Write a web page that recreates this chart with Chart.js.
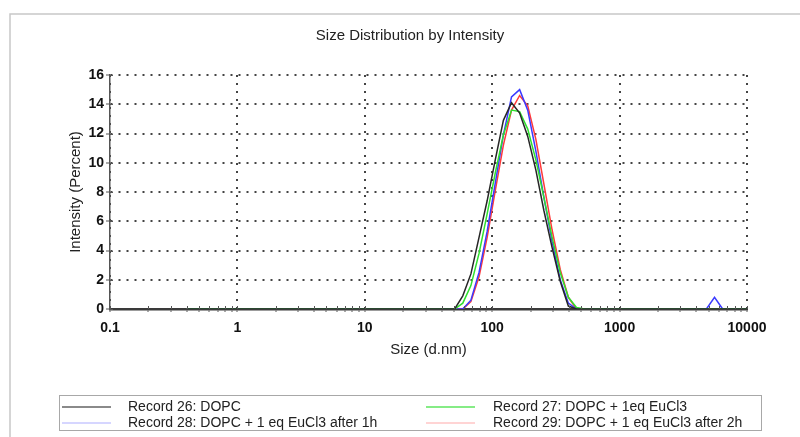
<!DOCTYPE html>
<html>
<head>
<meta charset="utf-8">
<title>Size Distribution by Intensity</title>
<script src="https://cdn.jsdelivr.net/npm/chart.js@4.4.0/dist/chart.umd.min.js"></script>
<style>
  body { margin: 0; background: #fff; }
  #wrap { width: 800px; height: 437px; position: relative; }
</style>
</head>
<body>
<div id="wrap"><canvas id="sizeChart"></canvas></div>
<script>
// size bins (d.nm)
const sizes = [0.4, 0.4632, 0.5365, 0.6213, 0.7195, 0.8332, 0.9649, 1.117, 1.294, 1.499,
  1.736, 2.010, 2.328, 2.696, 3.122, 3.615, 4.187, 4.849, 5.615, 6.503,
  7.531, 8.721, 10.10, 11.70, 13.54, 15.69, 18.17, 21.04, 24.36, 28.21,
  32.67, 37.84, 43.82, 50.75, 58.77, 68.06, 78.82, 91.28, 105.7, 122.4,
  141.8, 164.2, 190.1, 220.2, 255.0, 295.3, 342.0, 396.1, 458.7, 531.2,
  615.1, 712.4, 825.0, 955.4, 1106, 1281, 1484, 1718, 1990, 2305,
  2669, 3091, 3580, 4145, 4801, 5560, 6439, 7456, 8635, 10000];

// intensity (percent) per bin
const record26 = [0, 0, 0, 0, 0, 0, 0, 0, 0, 0,
  0, 0, 0, 0, 0, 0, 0, 0, 0, 0,
  0, 0, 0, 0, 0, 0, 0, 0, 0, 0,
  0, 0, 0, 0, 0.9, 2.4, 4.9, 7.4, 10.2, 12.9,
  14.1, 13.4, 11.8, 9.5, 6.7, 4.2, 1.9, 0.2, 0, 0,
  0, 0, 0, 0, 0, 0, 0, 0, 0, 0,
  0, 0, 0, 0, 0, 0, 0, 0, 0, 0];
const record27 = [0, 0, 0, 0, 0, 0, 0, 0, 0, 0,
  0, 0, 0, 0, 0, 0, 0, 0, 0, 0,
  0, 0, 0, 0, 0, 0, 0, 0, 0, 0,
  0, 0, 0, 0, 0.4, 1.6, 3.8, 6.5, 9.3, 11.9,
  13.6, 13.5, 12.3, 10.2, 7.6, 4.9, 2.5, 0.8, 0.1, 0,
  0, 0, 0, 0, 0, 0, 0, 0, 0, 0,
  0, 0, 0, 0, 0, 0, 0, 0, 0, 0];
const record28 = [0, 0, 0, 0, 0, 0, 0, 0, 0, 0,
  0, 0, 0, 0, 0, 0, 0, 0, 0, 0,
  0, 0, 0, 0, 0, 0, 0, 0, 0, 0,
  0, 0, 0, 0, 0, 0.6, 2.5, 5.3, 8.6, 11.9,
  14.5, 15.0, 13.6, 10.8, 7.6, 4.6, 2.0, 0.4, 0, 0,
  0, 0, 0, 0, 0, 0, 0, 0, 0, 0,
  0, 0, 0, 0, 0, 0.8, 0, 0, 0, 0];
const record29 = [0, 0, 0, 0, 0, 0, 0, 0, 0, 0,
  0, 0, 0, 0, 0, 0, 0, 0, 0, 0,
  0, 0, 0, 0, 0, 0, 0, 0, 0, 0,
  0, 0, 0, 0, 0, 0.5, 2.2, 4.9, 8.1, 11.2,
  13.6, 14.6, 13.9, 11.6, 8.5, 5.4, 2.7, 0.8, 0, 0,
  0, 0, 0, 0, 0, 0, 0, 0, 0, 0,
  0, 0, 0, 0, 0, 0, 0, 0, 0, 0];

const seriesNames = ['Record 26: DOPC', 'Record 27: DOPC + 1eq EuCl3',
  'Record 28: DOPC + 1 eq EuCl3 after 1h', 'Record 29: DOPC + 1 eq EuCl3 after 2h'];
const seriesColors = ['#262626', '#2ee02e', '#3a3aff', '#ff3a3a'];
const legendColors = ['#8a8a8a', '#86ec86', '#d6d6ff', '#ffd4d4'];

const xMajorTicks = [0.1, 1, 10, 100, 1000, 10000];
const yTickLabels = [0, 2, 4, 6, 8, 10, 12, 14, 16];

const FONT = '"Liberation Sans", Arial, sans-serif';

function toPoints(vals) {
  return sizes.map(function(s, i) { return {x: s, y: vals[i]}; });
}

const allSeries = [record26, record27, record28, record29];
const datasets = allSeries.map(function(vals, i) {
  return {
    label: seriesNames[i],
    data: toPoints(vals),
    borderColor: seriesColors[i],
    borderWidth: 1.5,
    pointRadius: 0,
    tension: 0,
    fill: false
  };
});

// frame, title, boxed legend and the little ticks that cross the axes
const framePlugin = {
  id: 'framePlugin',
  beforeDraw(chart) {
    const ctx = chart.ctx;
    ctx.save();
    ctx.fillStyle = '#fff';
    ctx.fillRect(0, 0, chart.width, chart.height);
    ctx.restore();
  },
  afterDraw(chart) {
    const ctx = chart.ctx;
    const xs = chart.scales.x, ys = chart.scales.y;
    ctx.save();
    ctx.strokeStyle = '#555';
    ctx.lineWidth = 1;
    ctx.beginPath();
    xs.ticks.forEach(function(t) {
      const px = Math.round(xs.getPixelForValue(t.value)) + 0.5;
      ctx.moveTo(px, xs.top - 3);
      ctx.lineTo(px, xs.top);
    });
    ys.ticks.forEach(function(t) {
      const py = Math.round(ys.getPixelForValue(t.value)) + 0.5;
      ctx.moveTo(ys.right, py);
      ctx.lineTo(ys.right + 3, py);
    });
    ctx.stroke();

    ctx.strokeStyle = '#c8c8c8';
    ctx.lineWidth = 1.5;
    ctx.strokeRect(10, 14, 900, 500);

    ctx.fillStyle = '#222';
    ctx.font = '15px ' + FONT;
    ctx.textAlign = 'center';
    ctx.textBaseline = 'middle';
    ctx.fillText('Size Distribution by Intensity', 410, 36);

    ctx.strokeStyle = '#a8a8a8';
    ctx.lineWidth = 1;
    ctx.strokeRect(59.5, 395.5, 702, 35);

    const slots = [[62, 111, 128, 407], [426, 475, 493, 407], [62, 111, 128, 423], [426, 475, 493, 423]];
    ctx.font = '14px ' + FONT;
    ctx.textAlign = 'left';
    slots.forEach(function(s, i) {
      ctx.strokeStyle = legendColors[i];
      ctx.lineWidth = 2;
      ctx.beginPath();
      ctx.moveTo(s[0], s[3]);
      ctx.lineTo(s[1], s[3]);
      ctx.stroke();
      ctx.fillStyle = '#222';
      ctx.fillText(seriesNames[i], s[2], s[3]);
    });
    ctx.restore();
  }
};

new Chart(document.getElementById('sizeChart'), {
  type: 'line',
  data: { datasets: datasets },
  options: {
    responsive: true,
    maintainAspectRatio: false,
    animation: false,
    layout: { padding: { left: 67, top: 75, right: 53, bottom: 78 } },
    plugins: {
      legend: { display: false },
      title: { display: false },
      tooltip: { enabled: false }
    },
    scales: {
      x: {
        type: 'logarithmic',
        min: 0.1,
        max: 10000,
        afterBuildTicks: function(scale) {
          const t = [];
          xMajorTicks.forEach(function(m, i) {
            t.push({value: m});
            if (i < xMajorTicks.length - 1) {
              for (let k = 2; k <= 9; k++) t.push({value: m * k});
            }
          });
          scale.ticks = t;
        },
        afterFit: function(scale) { scale.height = 50; },
        ticks: {
          autoSkip: false,
          maxRotation: 0,
          padding: 8,
          color: '#111',
          font: { family: FONT, size: 14, weight: 'bold' },
          callback: function(v) { return xMajorTicks.indexOf(v) >= 0 ? String(v) : ''; }
        },
        grid: {
          color: function(c) {
            return c.tick && xMajorTicks.indexOf(c.tick.value) >= 0 ? '#444' : 'rgba(0,0,0,0)';
          },
          lineWidth: 2,
          tickColor: '#555',
          tickWidth: 1,
          tickLength: 3
        },
        border: { color: '#3a3a3a', width: 2.5, dash: [2, 6] },
        title: {
          display: true,
          text: 'Size (d.nm)',
          color: '#222',
          padding: 0,
          font: { family: FONT, size: 15 }
        }
      },
      y: {
        min: 0,
        max: 16,
        afterFit: function(scale) { scale.width = 43; },
        ticks: {
          stepSize: 1,
          padding: 2,
          color: '#111',
          font: { family: FONT, size: 14, weight: 'bold' },
          callback: function(v) { return yTickLabels.indexOf(v) >= 0 ? String(v) : ''; }
        },
        grid: {
          color: function(c) {
            return c.tick && yTickLabels.indexOf(c.tick.value) >= 0 ? '#444' : 'rgba(0,0,0,0)';
          },
          lineWidth: 2,
          tickColor: '#555',
          tickWidth: 1,
          tickLength: 4
        },
        border: { color: '#555', width: 1.5, dash: [2, 6] },
        title: {
          display: true,
          text: 'Intensity (Percent)',
          color: '#222',
          padding: 0,
          font: { family: FONT, size: 15 }
        }
      }
    }
  },
  plugins: [framePlugin]
});
</script>
</body>
</html>
